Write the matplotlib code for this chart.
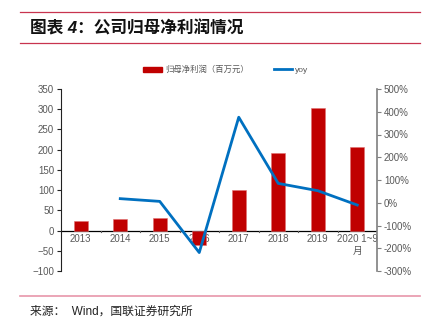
import matplotlib
matplotlib.use("Agg")
import matplotlib.pyplot as plt
from matplotlib.lines import Line2D
from matplotlib.patches import Patch
import numpy as np

plt.rcParams['font.family'] = ['Liberation Sans', 'Noto Sans CJK SC', 'DejaVu Sans']

# data
years = ['2013', '2014', '2015', '2016', '2017', '2018', '2019', '2020 1~9\n月']
profit = [24, 29, 30, -36, 100, 191, 302, 207]          # 归母净利润（百万元）
yoy_years = [1, 2, 3, 4, 5, 6, 7]
yoy = [18, 6, -219, 376, 85, 53, -10]                    # yoy in %

red = '#C00000'
blue = '#0070C0'
grey = '#595959'

fig = plt.figure(figsize=(4.37, 3.27), dpi=100)

# header and footer rules
fig.add_artist(Line2D([20/437, 420/437], [1-12/327, 1-12/327], color='#C8344F', lw=0.9))
fig.add_artist(Line2D([20/437, 420/437], [1-43/327, 1-43/327], color='#C8344F', lw=0.9))
fig.add_artist(Line2D([20/437, 420/437], [1-296/327, 1-296/327], color='#E896AA', lw=1.2))
fig.text(30/437, 1-28/327, '图表 4：公司归母净利润情况', fontsize=12, fontweight='bold',
         style='italic', va='center', ha='left', color='#111111')
fig.text(30/437, 1-312/327, '来源：  Wind，国联证券研究所', fontsize=8.5, va='center',
         ha='left', color='#222222')

ax = fig.add_axes([61/437, 1-271/327, 316/437, 182/327])
x = np.arange(len(years))
ax.bar(x, profit, width=0.35, color=red, edgecolor='#E07070', linewidth=0.4, zorder=3)
ax.axhline(0, color='black', lw=0.9, zorder=2)
ax.set_xlim(-0.5, len(years) - 0.5)
ax.set_ylim(-100, 350)
ax.set_yticks(np.arange(-100, 351, 50))
ax.set_xticks([])
# category boundary ticks on the zero line
for b in np.arange(0.5, len(years) - 1, 1.0):
    ax.plot([b, b], [0, -3], color=grey, lw=0.8, zorder=2)
for i, lab in enumerate(years):
    ax.text(i, -8, lab, ha='center', va='top', fontsize=7, color=grey, zorder=1,
            linespacing=1.3)

for s in ['top', 'bottom', 'right']:
    ax.spines[s].set_visible(False)
ax.spines['left'].set_color('#222222')
ax.tick_params(axis='y', labelsize=7, labelcolor=grey, length=3, color='#222222', pad=2)

ax2 = ax.twinx()
ax2.plot(yoy_years, yoy, color=blue, lw=2, zorder=4)
ax2.set_ylim(-300, 500)
ax2.set_yticks(np.arange(-300, 501, 100))
ax2.set_yticklabels([f'{v}%' for v in range(-300, 501, 100)])
for s in ['top', 'bottom', 'left']:
    ax2.spines[s].set_visible(False)
ax2.spines['right'].set_color('#7F7F7F')
ax2.spines['right'].set_linewidth(1.2)
ax2.tick_params(axis='y', labelsize=7, labelcolor=grey, length=3, color='#7F7F7F', pad=2)

handles = [Patch(facecolor=red, edgecolor=red), Line2D([0], [0], color=blue, lw=2)]
fig.legend(handles, ['归母净利润（百万元）', 'yoy'], loc='center', ncol=2,
           bbox_to_anchor=(226/437, 1-70/327), frameon=False, fontsize=6,
           labelcolor=grey, handlelength=2.2, handleheight=0.6,
           columnspacing=3, handletextpad=0.4)

fig.savefig('out.png', dpi=100)
